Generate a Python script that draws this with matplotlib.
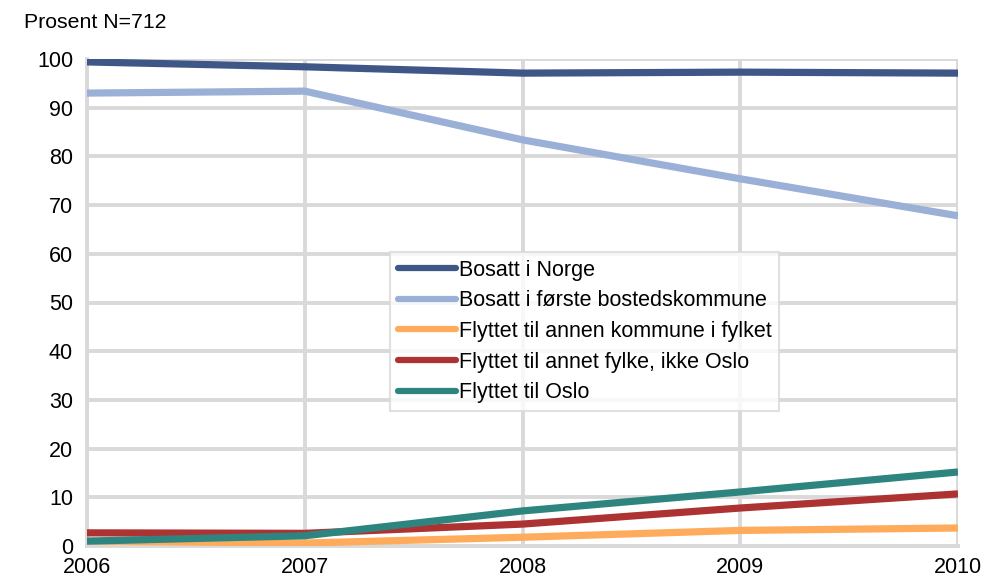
import matplotlib
matplotlib.use("Agg")
import matplotlib.pyplot as plt

years = [2006, 2007, 2008, 2009, 2010]
bosatt_norge = [99.4, 98.4, 97.1, 97.3, 97.1]
bosatt_forste = [93.0, 93.4, 83.4, 75.4, 67.8]
annen_kommune = [1.0, 0.6, 1.8, 3.2, 3.7]
annet_fylke = [2.7, 2.6, 4.5, 7.8, 10.7]
oslo = [1.0, 2.1, 7.2, 11.1, 15.2]

labels = ["Bosatt i Norge", "Bosatt i første bostedskommune",
          "Flyttet til annen kommune i fylket", "Flyttet til annet fylke, ikke Oslo",
          "Flyttet til Oslo"]
colors = ["#3f5787", "#9bb0d6", "#ffab5c", "#ad3333", "#2e8580"]
series = [bosatt_norge, bosatt_forste, annen_kommune, annet_fylke, oslo]

plt.rcParams['font.family'] = ['Liberation Sans', 'DejaVu Sans']

fig = plt.figure(figsize=(9.82, 5.79), dpi=100)
ax = fig.add_axes([87/982, 1 - 546/579, (958-87)/982, (546-59)/579])

for vals, c, lab in zip(series, colors, labels):
    ax.plot(years, vals, color=c, lw=5.2, label=lab, solid_capstyle='butt', zorder=3)

ax.set_xlim(2006, 2010)
ax.set_ylim(0, 100)
ax.set_xticks(years)
ax.set_yticks(range(0, 101, 10))
ax.grid(True, color='#d9d9d9', lw=2.8, zorder=0)
ax.set_axisbelow(True)
for s in ['top', 'right']:
    ax.spines[s].set_visible(False)
for s in ['left', 'bottom']:
    ax.spines[s].set_color('#d9d9d9')
    ax.spines[s].set_linewidth(2.8)
ax.tick_params(length=0, labelsize=15.5, colors='black')
ax.tick_params(axis='x', pad=8)
ax.tick_params(axis='y', pad=10)

fig.text(24/982, 1 - 22/579, "Prosent N=712", fontsize=15.3, va='center', ha='left')

leg = ax.legend(loc='upper left', bbox_to_anchor=((390-87)/871, (546-252)/487),
                fontsize=15.5, frameon=True, fancybox=False, borderaxespad=0,
                handlelength=2.7, handletextpad=0.15, labelspacing=0.45,
                borderpad=0.35)
leg.get_frame().set_edgecolor('#d9d9d9')
leg.get_frame().set_linewidth(1.5)
for h in leg.get_lines():
    h.set_solid_capstyle('round')
    h.set_linewidth(4.5)

fig.savefig("out.png", dpi=100)
